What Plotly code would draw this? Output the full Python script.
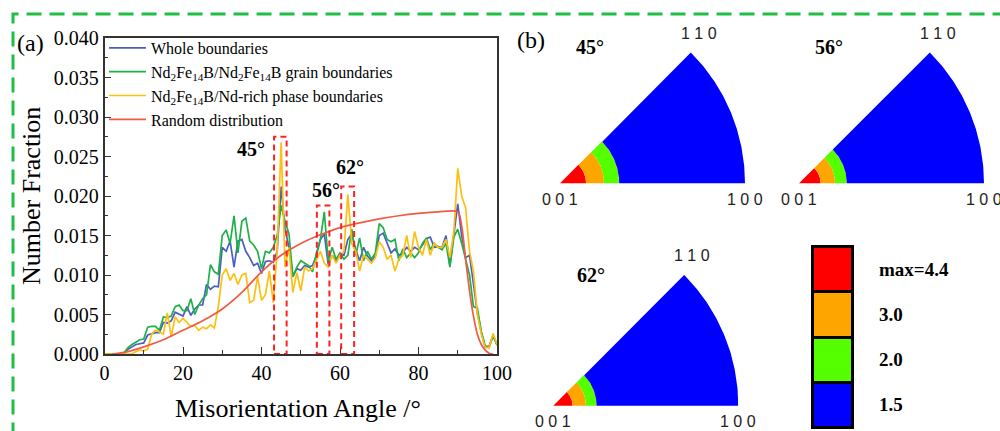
import numpy as np
import plotly.graph_objects as go

# ---- misorientation angle distribution (panel a) ----
angles = list(range(0, 101))

whole = [
    0, 0, 0, 0, 0, 0.0001, 0.0006, 0.0009, 0.0012, 0.0013,
    0.0014, 0.0024, 0.0026, 0.0027, 0.0027, 0.0040, 0.0039, 0.0042, 0.0053, 0.0050,
    0.0048, 0.0060, 0.0049, 0.0057, 0.0062, 0.0062, 0.0088, 0.0082, 0.0086, 0.0085,
    0.0135, 0.0130, 0.0143, 0.0110, 0.0143, 0.0145, 0.0130, 0.0122, 0.0112, 0.0115,
    0.0102, 0.0117, 0.0118, 0.0116, 0.0130, 0.0212, 0.0158, 0.0135, 0.0098, 0.0108,
    0.0106, 0.0112, 0.0110, 0.0112, 0.0125, 0.0145, 0.0152, 0.0113, 0.0125, 0.0118,
    0.0126, 0.0125, 0.0145, 0.0152, 0.0132, 0.0118, 0.0135, 0.0124, 0.0118, 0.0124,
    0.0150, 0.0153, 0.0140, 0.0128, 0.0133, 0.0125, 0.0128, 0.0135, 0.0130, 0.0135,
    0.0132, 0.0138, 0.0146, 0.0148, 0.0135, 0.0136, 0.0135, 0.0150, 0.0112, 0.0150,
    0.0190, 0.0150, 0.0122, 0.0125, 0.0090, 0.0052, 0.0028, 0.0009, 0.0010, 0.0023,
    0.0012,
]

nd_nd = [
    0, 0, 0, 0, 0, 0.0002, 0.0008, 0.0012, 0.0015, 0.0018,
    0.0019, 0.0034, 0.0035, 0.0035, 0.0030, 0.0047, 0.0046, 0.0048, 0.0060, 0.0062,
    0.0055, 0.0055, 0.0070, 0.0050, 0.0062, 0.0070, 0.0075, 0.0113, 0.0104, 0.0101,
    0.0150, 0.0157, 0.0140, 0.0175, 0.0128, 0.0168, 0.0172, 0.0143, 0.0138, 0.0130,
    0.0108, 0.0130, 0.0128, 0.0135, 0.0150, 0.0188, 0.0168, 0.0152, 0.0098, 0.0110,
    0.0118, 0.0115, 0.0112, 0.0104, 0.0128, 0.0145, 0.0180, 0.0118, 0.0135, 0.0120,
    0.0128, 0.0120, 0.0125, 0.0158, 0.0125, 0.0147, 0.0118, 0.0130, 0.0120, 0.0128,
    0.0165, 0.0160, 0.0145, 0.0142, 0.0145, 0.0118, 0.0133, 0.0122, 0.0128, 0.0122,
    0.0128, 0.0140, 0.0147, 0.0132, 0.0140, 0.0135, 0.0132, 0.0140, 0.0110, 0.0148,
    0.0158, 0.0140, 0.0120, 0.0100, 0.0060, 0.0058, 0.0028, 0.0010, 0.0008, 0.0024,
    0.0011,
]

nd_rich = [
    0, 0, 0, 0, 0, 0, 0, 0, 0.0003, 0.0005,
    0.0004, 0.0006, 0.0025, 0.0030, 0.0028, 0.0025, 0.0052, 0.0022, 0.0047, 0.0040,
    0.0045, 0.0040, 0.0035, 0.0036, 0.0030, 0.0034, 0.0032, 0.0037, 0.0033, 0.0060,
    0.0100, 0.0108, 0.0093, 0.0102, 0.0088, 0.0100, 0.0102, 0.0065, 0.0068, 0.0098,
    0.0068, 0.0075, 0.0105, 0.0065, 0.0130, 0.0268, 0.0110, 0.0135, 0.0078, 0.0103,
    0.0080, 0.0110, 0.0105, 0.0108, 0.0118, 0.0130, 0.0115, 0.0110, 0.0125, 0.0115,
    0.0125, 0.0130, 0.0202, 0.0140, 0.0130, 0.0105, 0.0125, 0.0120, 0.0115, 0.0122,
    0.0142, 0.0135, 0.0120, 0.0125, 0.0105, 0.0120, 0.0125, 0.0150, 0.0122, 0.0155,
    0.0135, 0.0125, 0.0145, 0.0125, 0.0140, 0.0135, 0.0135, 0.0145, 0.0122, 0.0155,
    0.0235, 0.0200, 0.0185, 0.0130, 0.0105, 0.0050, 0.0025, 0.0008, 0.0008, 0.0026,
    0.0012,
]

rand_angle = [2, 5, 10, 15, 20, 25, 30, 35, 40, 45, 50, 55, 60, 65, 70, 75, 80, 85,
              90, 91, 92, 93, 94, 95, 96, 97, 98, 99]
rand_frac = [0.0, 0.0002, 0.0009, 0.0018, 0.0030, 0.0042, 0.0057, 0.0078, 0.0104,
             0.0125, 0.0140, 0.0151, 0.0160, 0.0166, 0.0171, 0.0175, 0.0178, 0.0180,
             0.0180, 0.0162, 0.0120, 0.0080, 0.0048, 0.0025, 0.0012, 0.0005, 0.0001, 0.0]

# highlighted angle windows: (label, x0, x1, top, label_x, label_y)
peak_windows = [
    ("45°", 43.2, 46.4, 0.0275, 37.4, 0.0259),
    ("56°", 54.1, 57.3, 0.0188, 56.4, 0.0207),
    ("62°", 60.3, 63.6, 0.0212, 62.5, 0.0237),
]

# ---- inverse pole figures (panel b) ----
# band outer radii relative to the [100] radius, lowest band first
ipf_titles = ["45°", "56°", "62°"]
ipf_band_radii = [
    [0.141, 0.238, 0.320, 1.0],
    [0.117, 0.195, 0.258, 1.0],
    [0.104, 0.177, 0.234, 1.0],
]
band_colors = ["#ff0000", "#ffa500", "#55ff00", "#0000ff"]
key_labels = ["max=4.4", "3.0", "2.0", "1.5"]

SERIF = "Liberation Serif, Times New Roman, serif"
SANS = "Liberation Sans, Arial, sans-serif"
W, H = 1000, 431

fig = go.Figure()

series = [
    ("Whole boundaries", whole, "#4a5fbd"),
    ("Nd<sub>2</sub>Fe<sub>14</sub>B/Nd<sub>2</sub>Fe<sub>14</sub>B grain boundaries", nd_nd, "#1fb04a"),
    ("Nd<sub>2</sub>Fe<sub>14</sub>B/Nd-rich phase boundaries", nd_rich, "#fcbf12"),
]
for name, vals, col in series:
    fig.add_trace(go.Scatter(x=angles, y=vals, mode="lines", name=name,
                             line=dict(color=col, width=1.7), xaxis="x", yaxis="y"))
fig.add_trace(go.Scatter(x=rand_angle, y=rand_frac, mode="lines", name="Random distribution",
                         line=dict(color="#ef5b45", width=1.7, shape="spline", smoothing=0.8),
                         xaxis="x", yaxis="y"))

shapes = []
annotations = []
for label, x0, x1, top, lx, ly in peak_windows:
    shapes.append(dict(type="rect", xref="x", yref="y", x0=x0, x1=x1, y0=0, y1=top,
                       line=dict(color="#ff2020", width=2, dash="6px,4px"),
                       fillcolor="rgba(0,0,0,0)"))
    annotations.append(dict(xref="x", yref="y", x=lx, y=ly, text=label, showarrow=False,
                            xanchor="center", yanchor="middle",
                            font=dict(family=SERIF, size=20, color="black", weight="bold")))

# sectors of the inverse pole figures; apex pixel position of each sector
R_PX = 185.0
ipf_apex_px = [(560.0, 183.3), (799.0, 183.3), (553.3, 405.7)]
ipf_title_pos = [(0.162, 0.737), (0.162, 0.737), (0.204, 0.706)]
XR = [-0.1, 1.0]
YR = [-0.1, 0.9]
theta = np.linspace(0, np.pi / 4, 90)
layout_axes = {}
for i, (radii, title, (apx, apy), (tx, ty)) in enumerate(
        zip(ipf_band_radii, ipf_titles, ipf_apex_px, ipf_title_pos)):
    ax = i + 2
    xa, ya = f"x{ax}", f"y{ax}"
    inner = 0.0
    for r_out, col in zip(radii, band_colors):
        xs = np.concatenate([r_out * np.cos(theta), inner * np.cos(theta[::-1])])
        ys = np.concatenate([r_out * np.sin(theta), inner * np.sin(theta[::-1])])
        fig.add_trace(go.Scatter(x=xs, y=ys, fill="toself", fillcolor=col, mode="lines",
                                 line=dict(width=0, color=col), showlegend=False,
                                 hoverinfo="skip", xaxis=xa, yaxis=ya))
        inner = r_out
    xd = [(apx + XR[0] * R_PX) / W, (apx + XR[1] * R_PX) / W]
    yd = [1 - (apy - YR[0] * R_PX) / H, 1 - (apy - YR[1] * R_PX) / H]
    layout_axes[f"xaxis{ax}"] = dict(domain=xd, range=XR, visible=False, fixedrange=True)
    layout_axes[f"yaxis{ax}"] = dict(domain=yd, range=YR, visible=False, fixedrange=True)
    pole_font = dict(family=SANS, size=16, color="#222")
    common = dict(xref=xa, yref=ya, showarrow=False, xanchor="center", yanchor="middle")
    annotations += [
        dict(x=0.75, y=0.812, text="1 1 0", font=pole_font, **common),
        dict(x=0.0, y=-0.085, text="0 0 1", font=pole_font, **common),
        dict(x=1.0, y=-0.085, text="1 0 0", font=pole_font, **common),
        dict(x=tx, y=ty, text=title,
             font=dict(family=SERIF, size=20, color="black", weight="bold"), **common),
    ]

# density key as stacked blocks
for col in band_colors[::-1]:
    fig.add_trace(go.Bar(x=[0], y=[1], width=1,
                         marker=dict(color=col, line=dict(color="black", width=3)),
                         showlegend=False, hoverinfo="skip", xaxis="x5", yaxis="y5"))
layout_axes["xaxis5"] = dict(domain=[0.8105, 0.8545], range=[-0.55, 0.55], visible=False,
                             fixedrange=True)
layout_axes["yaxis5"] = dict(domain=[1 - 429.5 / H, 1 - 244.5 / H], range=[-0.05, 4.05],
                             visible=False, fixedrange=True)
for k, lab in enumerate(key_labels[::-1]):
    annotations.append(dict(xref="x5", yref="y5", x=0.55, y=k + 0.5, text=lab, showarrow=False,
                            xanchor="left", yanchor="middle", xshift=22,
                            font=dict(family=SERIF, size=19, color="black", weight="bold")))

# panel letters and axis titles
paper = dict(xref="paper", yref="paper", showarrow=False, xanchor="center", yanchor="middle")
annotations += [
    dict(x=30 / W, y=1 - 43 / H, text="(a)", font=dict(family=SERIF, size=24, color="black"),
         **paper),
    dict(x=531 / W, y=1 - 40 / H, text="(b)", font=dict(family=SERIF, size=24, color="black"),
         **paper),
    dict(x=298 / W, y=1 - 408 / H, text="Misorientation Angle /°",
         font=dict(family=SERIF, size=26, color="black"), **paper),
    dict(x=31 / W, y=1 - 196 / H, text="Number Fraction", textangle=-90,
         font=dict(family=SERIF, size=26, color="black"), **paper),
]

# dashed frame around the figure
shapes.append(dict(type="rect", xref="paper", yref="paper", x0=13 / W, x1=1.05, y0=-0.05,
                   y1=1 - 14 / H, line=dict(color="#1fbf45", width=3, dash="15px,8px"),
                   layer="above"))

axis_line = dict(showline=True, linecolor="#333", linewidth=1.5, mirror=True, showgrid=False,
                 zeroline=False, ticks="inside", ticklen=7, tickwidth=1.2, tickcolor="#333",
                 tickfont=dict(family=SERIF, size=20, color="black"))

fig.update_layout(
    width=W, height=H, margin=dict(l=0, r=0, t=0, b=0, autoexpand=False),
    paper_bgcolor="white", plot_bgcolor="white", barmode="stack", bargap=0,
    xaxis=dict(domain=[104.5 / W, 497 / W], range=[0, 100], dtick=20,
               minor=dict(dtick=10, ticks="inside", ticklen=4, tickcolor="#333"), **axis_line),
    yaxis=dict(domain=[1 - 354 / H, 1 - 38 / H], range=[0, 0.04], dtick=0.005, tickformat=".3f",
               minor=dict(dtick=0.0025, ticks="inside", ticklen=4, tickcolor="#333"), **axis_line),
    legend=dict(x=0.104, y=1 - 31 / H, xanchor="left", yanchor="top", bgcolor="rgba(0,0,0,0)",
                traceorder="normal", itemwidth=37,
                font=dict(family=SERIF, size=16, color="black"), tracegroupgap=0),
    shapes=shapes, annotations=annotations, showlegend=True,
    **layout_axes,
)

fig.write_html("out.html")
